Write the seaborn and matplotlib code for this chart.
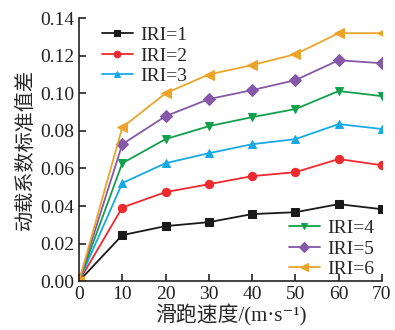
import numpy as np
import pandas as pd
import matplotlib.pyplot as plt
import seaborn as sns

# speeds and dynamic load coefficient std-dev
speed = [0, 10, 20, 30, 40, 50, 60, 70]
iri_1 = [0, 0.0245, 0.0293, 0.0314, 0.0357, 0.0367, 0.0410, 0.0383]
iri_2 = [0, 0.0392, 0.0474, 0.0516, 0.0559, 0.0580, 0.0650, 0.0617]
iri_3 = [0, 0.0522, 0.0628, 0.0681, 0.0729, 0.0756, 0.0836, 0.0810]
iri_4 = [0, 0.0628, 0.0756, 0.0825, 0.0873, 0.0916, 0.1012, 0.0985]
iri_5 = [0, 0.0729, 0.0878, 0.0969, 0.1017, 0.1070, 0.1176, 0.1160]
iri_6 = [0, 0.0818, 0.1000, 0.1100, 0.1150, 0.1208, 0.1320, 0.1320]
labels = ['IRI=1', 'IRI=2', 'IRI=3', 'IRI=4', 'IRI=5', 'IRI=6']

colors = ['#1a1a1a', '#ee2a2f', '#17a9e6', '#11a04c', '#8658a8', '#eca52a']
markers = ['s', 'o', '^', 'v', 'D', '<']
msizes = [6, 6, 6, 6, 6, 7]

sns.set_style('ticks')
plt.rcParams['font.family'] = ['Liberation Serif', 'Noto Sans CJK SC', 'DejaVu Sans']

fig = plt.figure(figsize=(3.95, 3.3), dpi=100)
ax = fig.add_axes([0.2, 0.148, 0.767, 0.797])

handles = []
for lab, ys, c, m, ms in zip(labels, [iri_1, iri_2, iri_3, iri_4, iri_5, iri_6], colors, markers, msizes):
    df = pd.DataFrame({'speed': speed, 'val': ys})
    sns.lineplot(data=df, x='speed', y='val', ax=ax, color=c, marker=m, markersize=ms,
                 markeredgecolor=c, linewidth=1.3, label=lab, legend=False)
    handles.append(ax.lines[-1])

ax.set_xlim(0, 70)
ax.set_ylim(0, 0.14)
ax.set_xticks(np.arange(0, 71, 10))
ax.set_yticks(np.arange(0, 0.141, 0.02))
ax.set_yticklabels([f'{v:.2f}' for v in np.arange(0, 0.141, 0.02)])
ax.tick_params(direction='in', labelsize=14, length=5, width=1.2, colors='#222222')
for s in ['left', 'bottom']:
    ax.spines[s].set_linewidth(1.2)
    ax.spines[s].set_color('#222222')
sns.despine(ax=ax)

ax.set_xlabel('滑跑速度/(m·s⁻¹)', fontsize=15, labelpad=1,
              family=['Liberation Serif', 'Noto Sans CJK SC', 'DejaVu Sans'])
ax.set_ylabel('动载系数标准值差', fontsize=14.5, labelpad=3,
              family=['Noto Sans CJK SC', 'DejaVu Sans'])

leg_kw = dict(frameon=False, fontsize=14, handlelength=1.6, handletextpad=0.4,
              labelspacing=0.15, borderaxespad=0.3, markerscale=0.8)
leg1 = ax.legend(handles=handles[:3], labels=labels[:3], loc='upper left',
                 bbox_to_anchor=(0.03, 1.02), **leg_kw)
ax.add_artist(leg1)
ax.legend(handles=handles[3:], labels=labels[3:], loc='lower right',
          bbox_to_anchor=(1.02, -0.04), **leg_kw)

fig.savefig('out.png', dpi=100)
